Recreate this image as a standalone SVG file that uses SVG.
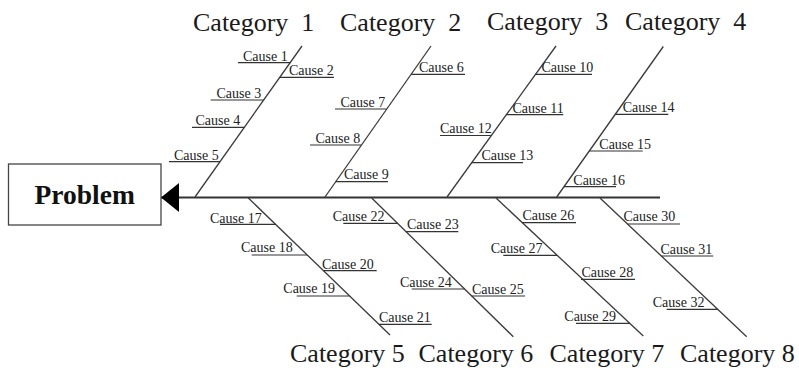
<svg xmlns="http://www.w3.org/2000/svg" width="799" height="368" viewBox="0 0 799 368">
  <style>
    .cat { font-family: "Liberation Serif", "Times New Roman", serif; font-size: 26px; fill: #1a1a1a; white-space: pre; }
    .cause { font-family: "Liberation Serif", "Times New Roman", serif; font-size: 14px; fill: #222; }
    .ul { stroke: #333; stroke-width: 1.2; fill: none; }
    .bone { stroke: #3a3a3a; stroke-width: 1.3; fill: none; }
    .spine { stroke: #333; stroke-width: 2; fill: none; }
    .box { fill: #fff; stroke: #444; stroke-width: 1.3; }
    .title { font-family: "Liberation Serif", "Times New Roman", serif; font-size: 27.5px; font-weight: bold; fill: #111; }
  </style>
  <defs>
    <marker id="head" markerUnits="userSpaceOnUse" markerWidth="18" markerHeight="29" viewBox="0 0 18 29" refX="18" refY="14.5" orient="auto">
      <path d="M18,14.5 L0,0 L0,29 Z" fill="#000"/>
    </marker>
  </defs>
  <rect width="799" height="368" fill="#fff"/>

  <!-- Spine and category bones -->
  <g id="connectors">
    <line class="spine" x1="660" y1="197.5" x2="161" y2="197.5" marker-end="url(#head)"/>
    <line class="bone" x1="195" y1="197" x2="302" y2="46"/>
    <line class="bone" x1="325" y1="197" x2="431" y2="46"/>
    <line class="bone" x1="447" y1="197" x2="556" y2="46"/>
    <line class="bone" x1="556.7" y1="197" x2="663.3" y2="46.5"/>
    <line class="bone" x1="248.3" y1="198" x2="390" y2="335"/>
    <line class="bone" x1="371.7" y1="198" x2="513.3" y2="336.7"/>
    <line class="bone" x1="496" y1="198" x2="643.3" y2="336"/>
    <line class="bone" x1="600" y1="198" x2="746.7" y2="336.7"/>
  </g>

  <g id="problem">
    <rect class="box" x="8.5" y="164" width="152.5" height="61"/>
    <text class="title" x="84.7" y="203.5" text-anchor="middle">Problem</text>
  </g>

  <!-- Category headings -->
  <g id="category-1"><text class="cat" x="193" y="30.5">Category  1</text></g>
  <g id="category-2"><text class="cat" x="340" y="30.5">Category  2</text></g>
  <g id="category-3"><text class="cat" x="487" y="30">Category  3</text></g>
  <g id="category-4"><text class="cat" x="625" y="29.5">Category  4</text></g>
  <g id="category-5"><text class="cat" x="290" y="361.5">Category 5</text></g>
  <g id="category-6"><text class="cat" x="418.5" y="361.5">Category 6</text></g>
  <g id="category-7"><text class="cat" x="549.5" y="361.5">Category 7</text></g>
  <g id="category-8"><text class="cat" x="680" y="361.5">Category 8</text></g>

  <!-- Causes, category 1 -->
  <g id="cause-1"><text class="cause" x="243" y="60.5">Cause 1</text><line class="ul" x1="238" y1="62.7" x2="290.2" y2="62.7"/></g>
  <g id="cause-2"><text class="cause" x="289" y="75">Cause 2</text><line class="ul" x1="279.8" y1="77.3" x2="334" y2="77.3"/></g>
  <g id="cause-3"><text class="cause" x="216.5" y="97.5">Cause 3</text><line class="ul" x1="210.7" y1="100" x2="263.7" y2="100"/></g>
  <g id="cause-4"><text class="cause" x="195.5" y="125">Cause 4</text><line class="ul" x1="192" y1="127.3" x2="244.4" y2="127.3"/></g>
  <g id="cause-5"><text class="cause" x="174" y="159.5">Cause 5</text><line class="ul" x1="169" y1="161.7" x2="220" y2="161.7"/></g>

  <!-- Causes, category 2 -->
  <g id="cause-6"><text class="cause" x="419" y="72.3">Cause 6</text><line class="ul" x1="411.1" y1="74.3" x2="465" y2="74.3"/></g>
  <g id="cause-7"><text class="cause" x="340.5" y="106.5">Cause 7</text><line class="ul" x1="335" y1="109" x2="386.8" y2="109"/></g>
  <g id="cause-8"><text class="cause" x="315.5" y="142.5">Cause 8</text><line class="ul" x1="310" y1="145" x2="361.5" y2="145"/></g>
  <g id="cause-9"><text class="cause" x="344" y="179.3">Cause 9</text><line class="ul" x1="335.7" y1="181.7" x2="388" y2="181.7"/></g>

  <!-- Causes, category 3 -->
  <g id="cause-10"><text class="cause" x="541.5" y="72.3">Cause 10</text><line class="ul" x1="535.6" y1="74.3" x2="592" y2="74.3"/></g>
  <g id="cause-11"><text class="cause" x="512.5" y="112.7">Cause 11</text><line class="ul" x1="506.4" y1="114.7" x2="563.3" y2="114.7"/></g>
  <g id="cause-12"><text class="cause" x="440" y="133">Cause 12</text><line class="ul" x1="440" y1="135.5" x2="491.4" y2="135.5"/></g>
  <g id="cause-13"><text class="cause" x="481.5" y="160.3">Cause 13</text><line class="ul" x1="471.8" y1="162.7" x2="523" y2="162.7"/></g>

  <!-- Causes, category 4 -->
  <g id="cause-14"><text class="cause" x="622.7" y="112.3">Cause 14</text><line class="ul" x1="615.3" y1="114.3" x2="668.3" y2="114.3"/></g>
  <g id="cause-15"><text class="cause" x="599.3" y="148.5">Cause 15</text><line class="ul" x1="589.3" y1="151" x2="642.7" y2="151"/></g>
  <g id="cause-16"><text class="cause" x="573.3" y="184.7">Cause 16</text><line class="ul" x1="564" y1="186.7" x2="616" y2="186.7"/></g>

  <!-- Causes, category 5 -->
  <g id="cause-17"><text class="cause" x="210" y="222.5">Cause 17</text><line class="ul" x1="220" y1="224.3" x2="275.5" y2="224.3"/></g>
  <g id="cause-18"><text class="cause" x="241" y="252">Cause 18</text><line class="ul" x1="251.7" y1="255" x2="307.2" y2="255"/></g>
  <g id="cause-20"><text class="cause" x="322" y="268.5">Cause 20</text><line class="ul" x1="323.5" y1="270.7" x2="376.7" y2="270.7"/></g>
  <g id="cause-19"><text class="cause" x="283.3" y="293">Cause 19</text><line class="ul" x1="296.7" y1="296" x2="349.6" y2="296"/></g>
  <g id="cause-21"><text class="cause" x="379" y="321.5">Cause 21</text><line class="ul" x1="378.9" y1="324.3" x2="431.7" y2="324.3"/></g>

  <!-- Causes, category 6 -->
  <g id="cause-22"><text class="cause" x="332.7" y="220.5">Cause 22</text><line class="ul" x1="343.3" y1="223.3" x2="397.5" y2="223.3"/></g>
  <g id="cause-23"><text class="cause" x="407" y="229">Cause 23</text><line class="ul" x1="406.1" y1="231.7" x2="458.3" y2="231.7"/></g>
  <g id="cause-24"><text class="cause" x="400" y="286.7">Cause 24</text><line class="ul" x1="411.7" y1="289" x2="464.6" y2="289"/></g>
  <g id="cause-25"><text class="cause" x="472" y="293.5">Cause 25</text><line class="ul" x1="471.8" y1="296" x2="525" y2="296"/></g>

  <!-- Causes, category 7 -->
  <g id="cause-26"><text class="cause" x="522.5" y="219.8">Cause 26</text><line class="ul" x1="522.4" y1="222.7" x2="576" y2="222.7"/></g>
  <g id="cause-27"><text class="cause" x="490.7" y="253">Cause 27</text><line class="ul" x1="503.3" y1="255.3" x2="557.1" y2="255.3"/></g>
  <g id="cause-28"><text class="cause" x="581.5" y="276.5">Cause 28</text><line class="ul" x1="581" y1="279.3" x2="635" y2="279.3"/></g>
  <g id="cause-29"><text class="cause" x="564.3" y="320.7">Cause 29</text><line class="ul" x1="576" y1="323.3" x2="629.7" y2="323.3"/></g>

  <!-- Causes, category 8 -->
  <g id="cause-30"><text class="cause" x="623.5" y="221">Cause 30</text><line class="ul" x1="627.5" y1="224" x2="680" y2="224"/></g>
  <g id="cause-31"><text class="cause" x="660.5" y="253.5">Cause 31</text><line class="ul" x1="661.4" y1="256" x2="713.3" y2="256"/></g>
  <g id="cause-32"><text class="cause" x="652.7" y="306.7">Cause 32</text><line class="ul" x1="666.7" y1="309.3" x2="717.8" y2="309.3"/></g>
</svg>
